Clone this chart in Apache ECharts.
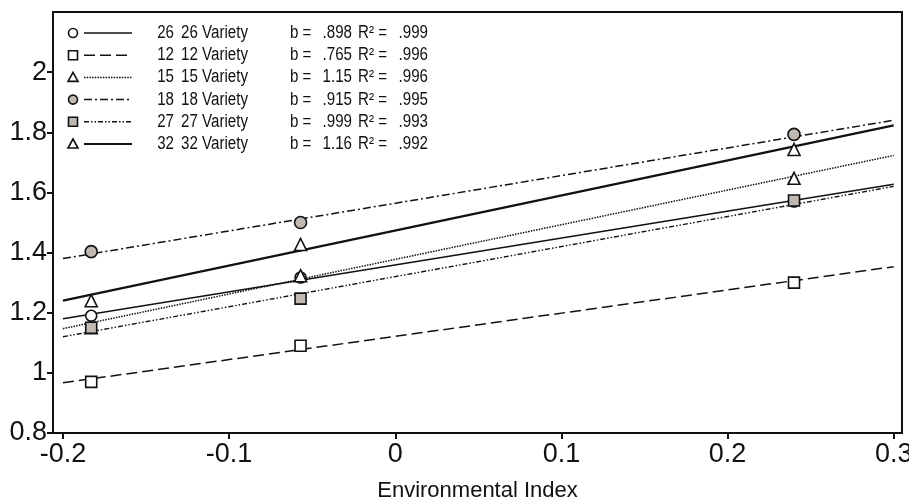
<!DOCTYPE html>
<html>
<head>
<meta charset="utf-8">
<script src="https://cdn.jsdelivr.net/npm/echarts@6/dist/echarts.min.js"></script>
<style>
  html, body { margin: 0; padding: 0; background: #fff; }
  #chart { width: 909px; height: 502px; }
</style>
</head>
<body>
<div id="chart"></div>
<script>
const FONT = '"Liberation Sans Narrow", "Liberation Sans", Arial, sans-serif';

// environmental index of the three sites
const envIndex = [-0.183, -0.057, 0.240];

const varieties = ['26', '12', '15', '18', '27', '32'];
const slopes = ['.898', '.765', '1.15', '.915', '.999', '1.16'];
const rSquared = ['.999', '.996', '.996', '.995', '.993', '.992'];

// observed means, one per site
const obs26 = [1.19, 1.317, 1.57];
const obs12 = [0.97, 1.09, 1.30];
const obs15 = [1.15, 1.323, 1.647];
const obs18 = [1.403, 1.50, 1.793];
const obs27 = [1.15, 1.247, 1.573];
const obs32 = [1.24, 1.427, 1.743];

// fitted lines read at the two ends of the x range
const fitX = [-0.2, 0.3];
const fitStart = [1.18, 0.967, 1.147, 1.38, 1.12, 1.24];
const fitEnd = [1.627, 1.353, 1.723, 1.84, 1.62, 1.823];

const xTicks = [-0.2, -0.1, 0, 0.1, 0.2, 0.3];
const yTicks = [0.8, 1, 1.2, 1.4, 1.6, 1.8, 2];

const observed = [obs26, obs12, obs15, obs18, obs27, obs32];
const gray = '#c2bab2';
const styles = [
  { symbol: 'circle', size: 11, fill: '#fff', dash: 'solid', width: 1.4 },
  { symbol: 'rect', size: 11, fill: '#fff', dash: [11, 5], width: 1.5 },
  { symbol: 'triangle', size: 12, fill: '#fff', dash: [1.5, 1.2], width: 1.5 },
  { symbol: 'circle', size: 12, fill: gray, dash: [8, 3, 2, 3], width: 1.5 },
  { symbol: 'rect', size: 11, fill: gray, dash: [5, 2, 1.5, 2, 1.5, 2], width: 1.4 },
  { symbol: 'triangle', size: 12, fill: '#fff', dash: 'solid', width: 2.2 }
];

const series = [];
varieties.forEach((v, i) => {
  const st = styles[i];
  series.push({
    name: v + ' fit',
    type: 'line',
    data: [[fitX[0], fitStart[i]], [fitX[1], fitEnd[i]]],
    symbol: 'none',
    silent: true,
    z: 2,
    lineStyle: { color: '#111', width: st.width, type: st.dash }
  });
});
varieties.forEach((v, i) => {
  const st = styles[i];
  series.push({
    name: v + ' Variety',
    type: 'scatter',
    data: envIndex.map((x, k) => [x, observed[i][k]]),
    symbol: st.symbol,
    symbolSize: st.size,
    z: 3,
    itemStyle: { color: st.fill, borderColor: '#111', borderWidth: 1.6, opacity: 1 }
  });
});

// legend block drawn in the top-left corner of the plot
const legendItems = [];
const rowTop = 33, rowGap = 22.2;
varieties.forEach((v, i) => {
  const st = styles[i];
  const y = rowTop + i * rowGap;
  const markStyle = { fill: st.fill, stroke: '#111', lineWidth: 1.6 };
  if (st.symbol === 'circle') {
    legendItems.push({ type: 'circle', shape: { cx: 73, cy: y, r: 4.5 }, style: markStyle });
  } else if (st.symbol === 'rect') {
    legendItems.push({ type: 'rect', shape: { x: 68.5, y: y - 4.5, width: 9, height: 9 }, style: markStyle });
  } else {
    legendItems.push({ type: 'polygon', shape: { points: [[73, y - 5], [78, y + 4], [68, y + 4]] }, style: markStyle });
  }
  legendItems.push({
    type: 'line',
    shape: { x1: 84, y1: y, x2: 132, y2: y },
    style: { stroke: '#111', lineWidth: st.width, lineDash: st.dash === 'solid' ? null : st.dash }
  });
  const txt = (text, x, align) => ({
    type: 'text', x: x, y: y, scaleX: 0.84,
    style: { text: text, font: '18px ' + FONT, fill: '#111', align: align, verticalAlign: 'middle' }
  });
  legendItems.push(txt(v, 174, 'right'));
  legendItems.push(txt(v + ' Variety', 181, 'left'));
  legendItems.push(txt('b =', 290, 'left'));
  legendItems.push(txt(slopes[i], 352, 'right'));
  legendItems.push(txt('R\u00b2 =', 358, 'left'));
  legendItems.push(txt(rSquared[i], 428, 'right'));
});

const chart = echarts.init(document.getElementById('chart'));
chart.setOption({
  animation: false,
  backgroundColor: '#fff',
  grid: {
    left: 53, right: 7, top: 12, bottom: 69,
    outerBoundsMode: 'none',
    containLabel: false,
    show: true, borderColor: '#111', borderWidth: 2
  },
  xAxis: {
    type: 'value',
    min: -0.206,
    max: 0.305,
    name: 'Environmental Index',
    nameLocation: 'middle',
    nameGap: 47,
    nameTextStyle: { fontFamily: FONT, fontSize: 22, color: '#111' },
    axisLine: { show: true, onZero: false, lineStyle: { color: '#111', width: 2 } },
    axisTick: { show: true, length: 6, customValues: xTicks, lineStyle: { color: '#111', width: 2 } },
    axisLabel: {
      customValues: xTicks, color: '#111', fontFamily: FONT, fontSize: 27, margin: 8,
      formatter: v => String(Math.round(v * 10) / 10)
    },
    splitLine: { show: false }
  },
  yAxis: {
    type: 'value',
    min: 0.8,
    max: 2.2,
    axisLine: { show: true, onZero: false, lineStyle: { color: '#111', width: 2 } },
    axisTick: { show: true, length: 6, customValues: yTicks, lineStyle: { color: '#111', width: 2 } },
    axisLabel: {
      customValues: yTicks, color: '#111', fontFamily: FONT, fontSize: 27, margin: 6,
      formatter: v => String(Math.round(v * 10) / 10)
    },
    splitLine: { show: false }
  },
  graphic: legendItems,
  series: series
});
</script>
</body>
</html>
